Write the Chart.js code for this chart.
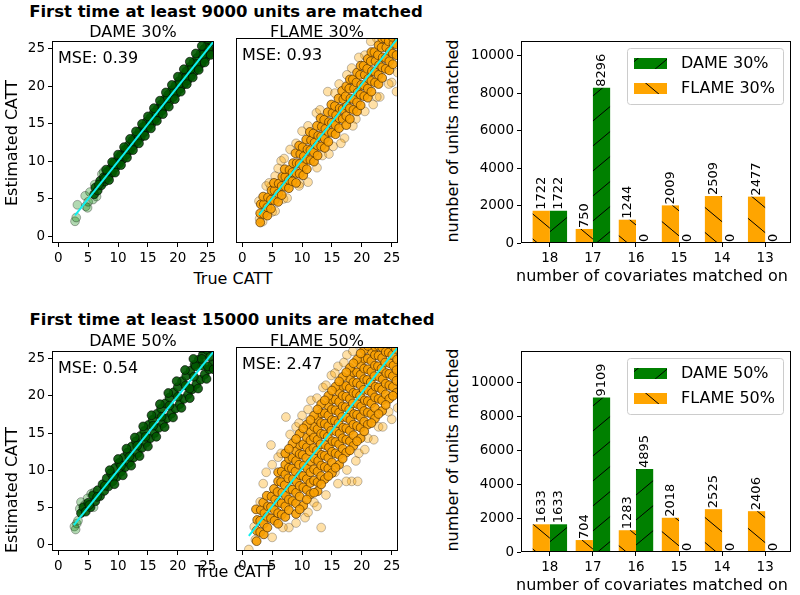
<!DOCTYPE html>
<html>
<head>
<meta charset="utf-8">
<script src="https://cdn.jsdelivr.net/npm/chart.js@4.4.1/dist/chart.umd.min.js"></script>
<style>
body { margin: 0; background: #fff; }
#fig { position: relative; width: 800px; height: 595px; overflow: hidden; font-family: "DejaVu Sans", sans-serif; color: #000; }
canvas { position: absolute; }
.t { position: absolute; transform: translate(-50%, -50%); white-space: nowrap; line-height: 1; font-size: 16px; }
.b { font-weight: bold; font-size: 16.5px; }
.v { transform: translate(-50%, -50%) rotate(-90deg); }
</style>
</head>
<body>
<div id="fig">
  <canvas id="dame30"></canvas>
  <canvas id="flame30"></canvas>
  <canvas id="bars30"></canvas>
  <canvas id="dame50"></canvas>
  <canvas id="flame50"></canvas>
  <canvas id="bars50"></canvas>

  <div class="t b" style="left:226px;top:12px">First time at least 9000 units are matched</div>
  <div class="t" style="left:133px;top:32px">DAME 30%</div>
  <div class="t" style="left:317px;top:32px">FLAME 30%</div>
  <div class="t v" style="left:12px;top:143px">Estimated CATT</div>
  <div class="t" style="left:233px;top:279px">True CATT</div>
  <div class="t v" style="left:453px;top:141px">number of units matched</div>
  <div class="t" style="left:652px;top:276px">number of covariates matched on</div>

  <div class="t b" style="left:232px;top:320px">First time at least 15000 units are matched</div>
  <div class="t" style="left:133px;top:341px">DAME 50%</div>
  <div class="t" style="left:317px;top:341px">FLAME 50%</div>
  <div class="t v" style="left:12px;top:490px">Estimated CATT</div>
  <div class="t" style="left:234px;top:572px">True CATT</div>
  <div class="t v" style="left:453px;top:450px">number of units matched</div>
  <div class="t" style="left:652px;top:585px">number of covariates matched on</div>
</div>
<script>
// bar panels
const covariates = [18, 17, 16, 15, 14, 13];
const flame30Units = [1722, 750, 1244, 2009, 2509, 2477];
const dame30Units = [1722, 8296, 0, 0, 0, 0];
const flame50Units = [1633, 704, 1283, 2018, 2525, 2406];
const dame50Units = [1633, 9109, 4895, 0, 0, 0];
const unitTicks = [0, 2000, 4000, 6000, 8000, 10000];

// scatter panels: [true CATT, estimated CATT]
const cattTicks = [0, 5, 10, 15, 20, 25];
const mseLabels = ['MSE: 0.39', 'MSE: 0.93', 'MSE: 0.54', 'MSE: 2.47'];

const dame30Core = [[6.0,5.6],[6.2,6.5],[6.6,6.1],[7.0,7.4],[7.2,6.8],[7.6,7.9],[7.8,7.3],[8.2,8.6],[8.4,7.9],[8.8,9.1],[9.0,8.5],[9.3,9.8],[9.6,9.2],[10.0,10.4],[10.2,9.7],[10.5,10.9],[10.8,10.3],[11.2,11.6],[11.4,10.9],[11.8,12.2],[12.0,11.5],[12.4,12.8],[12.6,12.1],[13.0,13.4],[13.2,12.7],[13.6,14.0],[13.8,13.2],[14.2,14.6],[14.4,13.9],[14.8,15.3],[15.0,14.5],[15.4,15.8],[15.6,15.0],[16.0,16.5],[16.2,15.6],[16.6,17.0],[16.8,16.2],[17.2,17.6],[17.4,16.8],[17.8,18.3],[18.0,17.4],[18.4,18.9],[18.6,18.0],[19.0,19.5],[19.2,18.6],[19.6,20.1],[19.8,19.1],[20.2,20.7],[20.4,19.7],[20.8,21.4],[21.0,20.3],[21.4,22.0],[21.6,20.8],[22.0,22.6],[22.2,21.4],[22.6,23.2],[22.8,22.0],[23.2,23.8],[23.4,22.5],[23.8,24.4],[24.0,23.1],[24.4,25.0],[24.6,23.7],[25.0,25.6],[25.2,24.3],[25.6,26.0],[25.8,24.9],
  [6.8,6.9],[7.8,7.7],[8.7,8.8],[9.7,9.6],[10.6,10.7],[11.6,11.5],[12.5,12.6],[13.5,13.4],[14.5,14.6],[15.5,15.4],[16.4,16.5],[17.4,17.3],[18.3,18.4],[19.3,19.2],[20.3,20.4],[21.2,21.1],[22.2,22.3],[23.1,23.0],[24.1,24.2],[25.1,25.0],
  [8.0,8.9],[9.0,9.9],[10.0,10.9],[11.0,11.9],[12.0,13.0],[13.0,14.0],[14.0,15.0],[15.0,16.0],[16.0,17.1],[17.0,18.1],[18.0,19.2],[19.0,20.2],[20.0,21.3],[21.0,22.3],[22.0,23.3],[23.0,24.4],[24.0,25.4],[25.0,26.3],
  [8.5,7.5],[9.5,8.5],[10.5,9.5],[11.5,10.5],[12.5,11.5],[13.5,12.4],[14.5,13.4],[15.5,14.4],[16.5,15.4],[17.5,16.3],[18.5,17.3],[19.5,18.3],[20.5,19.3],[21.5,20.3],[22.5,21.2],[23.5,22.2],[24.5,23.2],[25.5,24.2]];
const dame30Sparse = [[2.8,2.0],[3.0,2.5],[3.2,4.2],[4.5,5.4],[4.6,4.0],[4.9,3.8],[5.0,4.6],[5.3,5.9],[5.8,4.9],[6.1,6.9],[7.3,8.3],[7.6,8.6],[6.4,5.3],[25.9,24.3]];
const dame30Fit = [[2.8,2.8],[26.5,26.5]];

const flame30Core = [[3.0,1.8],[3.0,3.0],[3.1,4.2],[3.6,2.9],[3.6,4.2],[3.5,5.2],[4.2,2.7],[4.2,3.8],[4.3,5.1],[4.8,3.6],[4.8,4.8],[4.9,6.0],[5.4,4.7],[5.4,6.0],[5.3,7.0],
  [6.0,4.5],[6.0,5.6],[6.1,6.9],[6.6,5.4],[6.6,6.6],[6.7,7.8],[7.2,6.5],[7.2,7.8],[7.1,8.8],[7.8,6.3],[7.8,7.4],[7.9,8.7],[8.4,7.2],[8.4,8.4],[8.5,9.6],
  [9.0,7.0],[9.0,8.3],[9.1,9.6],[8.9,10.9],[9.6,8.2],[9.6,9.5],[9.7,10.8],[9.5,11.9],[10.2,8.0],[10.2,9.2],[10.3,10.5],[10.1,11.7],[10.8,8.8],[10.8,10.1],[10.9,11.4],[10.7,12.7],
  [11.4,10.0],[11.4,11.3],[11.5,12.6],[11.3,13.7],[12.0,9.8],[12.0,11.0],[12.1,12.3],[11.9,13.5],[12.6,10.6],[12.6,11.9],[12.7,13.2],[12.5,14.5],[13.2,11.8],[13.2,13.1],[13.3,14.4],[13.1,15.5],
  [13.8,11.6],[13.8,12.8],[13.9,14.1],[13.7,15.3],[14.4,12.4],[14.4,13.7],[14.5,15.0],[14.3,16.3],[15.0,13.6],[15.0,14.9],[15.1,16.2],[14.9,17.3],[15.6,13.4],[15.6,14.6],[15.7,15.9],[15.5,17.1],
  [16.2,14.2],[16.2,15.5],[16.3,16.8],[16.1,18.1],[16.8,15.4],[16.8,16.7],[16.9,18.0],[16.7,19.1],
  [17.4,14.6],[17.4,15.8],[17.5,17.1],[17.3,18.4],[17.4,19.7],[18.0,15.4],[18.0,16.8],[18.1,18.1],[17.9,19.4],[18.0,20.6],[18.6,16.6],[18.6,18.0],[18.7,19.4],[18.5,20.6],
  [19.2,16.4],[19.2,17.6],[19.3,18.9],[19.1,20.2],[19.2,21.5],[19.8,17.2],[19.8,18.6],[19.9,19.9],[19.7,21.2],[19.8,22.4],[20.4,18.4],[20.4,19.8],[20.5,21.2],[20.3,22.4],
  [21.0,18.2],[21.0,19.4],[21.1,20.7],[20.9,22.0],[21.0,23.3],[21.6,19.0],[21.6,20.4],[21.7,21.7],[21.5,23.0],[21.6,24.2],[22.2,20.2],[22.2,21.6],[22.3,23.0],[22.1,24.2],
  [22.8,20.0],[22.8,21.2],[22.9,22.5],[22.7,23.8],[22.8,25.1],[23.4,20.8],[23.4,22.2],[23.5,23.5],[23.3,24.8],[23.4,26.0],[24.0,22.0],[24.0,23.4],[24.1,24.8],[23.9,26.0],
  [24.6,21.8],[24.6,23.0],[24.7,24.3],[24.5,25.6],[25.2,22.6],[25.2,24.0],[25.3,25.3],[25.1,26.2],[25.8,23.8],[25.8,25.2],[25.9,26.3]];
const flame30Sparse = [[2.8,4.6],[3.4,1.9],[2.9,2.3],[4.8,6.5],[4.0,6.6],[6.5,9.9],[5.5,7.9],[11.0,7.1],[9.6,6.9],[12.4,16.2],[14.3,19.0],[17.1,12.9],[18.3,22.1],[21.9,17.3],[20.5,23.8],[23.0,18.3],[25.8,19.0],[26.0,21.5],[22.5,26.0],[24.0,26.0],[7.0,10.2],[8.0,11.4],[13.4,10.6],[15.2,11.8],[19.0,15.4],[16.2,20.0],[10.0,13.8],[6.9,4.9],[5.0,3.2],[25.0,20.2],
  [5.5,3.3],[7.5,5.0],[9.5,6.6],[12.5,9.0],[14.5,10.8],[16.5,12.2],[18.5,14.5],[20.5,16.4],[22.5,18.3],[24.5,20.0],[4.5,7.0],[6.0,8.9],[9.0,12.2],[11.0,14.5],[13.0,16.6],[15.5,18.8],[17.5,21.2],[19.5,23.5],[21.5,25.6]];
const flame30Fit = [[2.8,2.8],[26.5,26.5]];

const dame50Core = [[3.8,4.2],[4.2,5.0],[4.6,4.4],[5.0,5.6],[5.4,5.0],[5.8,6.6],[6.2,5.8],[6.6,7.3],[7.0,6.5],[7.4,8.1],[7.7,7.2],[8.1,8.9],[8.4,7.8],[8.8,9.6],[9.1,8.5],[9.5,10.3],[9.8,9.1],[10.2,11.0],[10.5,9.8],[10.9,11.7],[11.2,10.4],[11.6,12.4],[11.9,11.0],[12.3,13.2],[12.6,11.7],[13.0,13.9],[13.3,12.3],[13.7,14.6],[14.0,13.0],[14.4,15.3],[14.7,13.7],[15.1,16.1],[15.4,14.3],[15.8,16.8],[16.1,15.0],[16.5,17.6],[16.8,15.7],[17.2,18.3],[17.5,16.3],[17.9,19.0],[18.2,17.0],[18.6,19.8],[18.9,17.6],[19.3,20.5],[19.6,18.3],[20.0,21.2],[20.3,18.9],[20.7,22.0],[21.0,19.6],[21.4,22.7],[21.7,20.2],[22.1,23.4],[22.4,20.9],[22.8,24.2],[23.1,21.6],[23.5,24.9],[23.8,22.2],[24.2,25.6],[24.5,22.9],[24.9,26.2],[25.2,23.6],[25.6,26.4],[25.8,24.3],
  [5.2,5.3],[6.5,6.4],[7.8,7.9],[9.2,9.1],[10.5,10.6],[11.9,11.8],[13.2,13.3],[14.6,14.5],[15.9,16.0],[17.3,17.2],[18.6,18.7],[20.0,19.9],[21.3,21.4],[22.7,22.6],[24.0,24.1],[25.4,25.3],[22.0,21.0],[23.0,24.0],[24.0,25.0],[25.0,24.0],
  [8.6,10.0],[10.0,11.5],[11.4,12.9],[12.8,14.4],[14.2,15.9],[15.6,17.4],[17.0,18.9],[18.4,20.4],[19.8,22.0],[21.2,23.5],[22.6,25.0],[24.0,26.4],
  [9.4,8.1],[10.8,9.3],[12.2,10.6],[13.6,11.9],[15.0,13.2],[16.4,14.5],[17.8,15.8],[19.2,17.1],[20.6,18.4],[22.0,19.7],[23.4,21.0],[24.8,22.3],[26.0,23.6]];
const dame50Sparse = [[2.7,2.4],[2.9,2.0],[3.1,2.8],[3.3,3.2],[3.6,4.8],[3.8,5.7],[4.4,5.3],[5.5,6.8],[4.9,6.2],[6.0,7.0],[5.9,5.0]];
const dame50Fit = [[2.6,2.6],[26.5,26.5]];

const flame50Core = [[2.4,0.4],[2.4,1.8],[2.5,3.2],[2.3,4.6],[3.0,1.6],[3.0,3.1],[3.1,4.5],[3.6,1.3],[3.6,2.7],[3.7,4.1],[3.5,5.5],[4.2,2.2],[4.2,3.6],[4.3,5.0],[4.1,6.4],[4.8,3.4],[4.8,4.9],[4.9,6.3],[5.4,3.1],[5.4,4.5],[5.5,5.9],[5.3,7.3],
  [6.0,2.7],[6.0,4.1],[6.1,5.5],[5.9,6.9],[6.0,8.3],[6.0,9.5],[6.6,3.9],[6.6,5.4],[6.7,6.8],[6.5,8.2],[6.6,9.6],[7.2,3.6],[7.2,5.0],[7.3,6.4],[7.1,7.8],[7.2,9.2],[7.2,10.5],
  [7.8,4.5],[7.8,5.9],[7.9,7.3],[7.7,8.7],[7.8,10.1],[7.8,11.3],[8.4,5.7],[8.4,7.2],[8.5,8.6],[8.3,10.0],[8.4,11.4],[9.0,5.4],[9.0,6.8],[9.1,8.2],[8.9,9.6],[9.0,11.0],[9.0,12.3],
  [9.6,6.3],[9.6,7.7],[9.7,9.1],[9.5,10.5],[9.6,11.9],[9.6,13.1],[10.2,7.5],[10.2,9.0],[10.3,10.4],[10.1,11.8],[10.2,13.2],[10.8,7.2],[10.8,8.6],[10.9,10.0],[10.7,11.4],[10.8,12.8],[10.8,14.1],
  [11.4,8.1],[11.4,9.5],[11.5,10.9],[11.3,12.3],[11.4,13.7],[11.4,14.9],
  [12.0,8.4],[12.0,9.9],[12.1,11.3],[11.9,12.7],[12.0,14.1],[12.0,15.5],[12.6,8.2],[12.6,9.6],[12.7,11.0],[12.5,12.4],[12.6,13.8],[12.6,15.2],[12.6,16.5],
  [13.2,9.0],[13.2,10.4],[13.3,11.8],[13.1,13.2],[13.2,14.6],[13.2,16.0],[13.2,17.3],[13.8,10.2],[13.8,11.7],[13.9,13.1],[13.7,14.5],[13.8,15.9],[13.8,17.3],
  [14.4,10.0],[14.4,11.4],[14.5,12.8],[14.3,14.2],[14.4,15.6],[14.4,17.0],[14.4,18.3],[15.0,10.8],[15.0,12.2],[15.1,13.6],[14.9,15.0],[15.0,16.4],[15.0,17.8],[15.0,19.1],
  [15.6,12.0],[15.6,13.5],[15.7,14.9],[15.5,16.3],[15.6,17.7],[15.6,19.1],[16.2,11.8],[16.2,13.2],[16.3,14.6],[16.1,16.0],[16.2,17.4],[16.2,18.8],[16.2,20.1],
  [16.8,12.6],[16.8,14.0],[16.9,15.4],[16.7,16.8],[16.8,18.2],[16.8,19.6],[16.8,20.9],[17.4,13.8],[17.4,15.3],[17.5,16.7],[17.3,18.1],[17.4,19.5],[17.4,20.9],
  [18.0,13.6],[18.0,15.0],[18.1,16.4],[17.9,17.8],[18.0,19.2],[18.0,20.6],[18.0,21.9],[18.6,14.4],[18.6,15.8],[18.7,17.2],[18.5,18.6],[18.6,20.0],[18.6,21.4],[18.6,22.7],
  [19.2,15.6],[19.2,17.1],[19.3,18.5],[19.1,19.9],[19.2,21.3],[19.2,22.7],[19.8,15.4],[19.8,16.8],[19.9,18.2],[19.7,19.6],[19.8,21.0],[19.8,22.4],[19.8,23.7],
  [20.4,16.2],[20.4,17.6],[20.5,19.0],[20.3,20.4],[20.4,21.8],[20.4,23.2],[20.4,24.5],[21.0,17.4],[21.0,18.9],[21.1,20.3],[20.9,21.7],[21.0,23.1],[21.0,24.5],
  [21.6,17.2],[21.6,18.6],[21.7,20.0],[21.5,21.4],[21.6,22.8],[21.6,24.2],[21.6,25.5],[22.2,18.0],[22.2,19.4],[22.3,20.8],[22.1,22.2],[22.2,23.6],[22.2,25.0],[22.2,26.1],
  [22.8,19.2],[22.8,20.7],[22.9,22.1],[22.7,23.5],[22.8,24.9],[22.8,26.2],[23.4,19.0],[23.4,20.4],[23.5,21.8],[23.3,23.2],[23.4,24.6],[23.4,26.0],
  [24.0,19.8],[24.0,21.2],[24.1,22.6],[23.9,24.0],[24.0,25.4],[24.6,21.0],[24.6,22.5],[24.7,23.9],[24.5,25.3],[25.2,20.8],[25.2,22.2],[25.3,23.6],[25.1,25.0],[25.2,26.2],
  [25.8,21.6],[25.8,23.0],[25.9,24.4],[25.7,25.8],
  [7.2,12.0],[8.4,13.3],[9.6,14.6],[10.8,15.8],[12.0,17.0],[13.2,18.5],[14.4,19.6],[15.6,20.8],[16.8,22.1],[18.0,23.3],[19.2,24.4],[20.4,25.7],
  [7.8,12.6],[9.0,13.9],[10.2,15.3],[11.4,16.4],[12.6,17.8],[13.8,19.0],[15.0,20.3],[16.2,21.5],[17.4,22.7],[18.6,23.9],[19.8,25.2],[21.0,26.2],
  [9.0,4.0],[10.2,5.1],[11.4,6.6],[12.6,7.0],[13.8,8.6],[15.0,9.4],[16.2,10.5],[17.4,12.1],[18.6,13.0],[19.8,14.0],[21.0,15.8],[22.2,16.6],[23.4,17.6],[24.6,19.2],[25.8,20.0],
  [9.6,4.6],[10.8,5.9],[12.0,6.8],[13.2,7.9],[14.4,9.0],[15.6,10.1],[16.8,11.3],[18.0,12.4],[19.2,13.6],[20.4,14.9],[21.6,16.0],[22.8,17.2],[24.0,18.4],[25.2,19.6]];
const flame50Sparse = [[1.1,-0.7],[2.0,2.3],[2.2,0.6],[3.0,5.6],[4.8,13.1],[7.3,16.8],[11.5,19.0],[13.5,20.7],[14.9,22.3],[22.8,15.5],[18.3,8.3],[17.4,8.3],[19.3,8.3],[13.2,2.2],[7.8,2.2],[6.8,2.2],[25.3,20.1],[26.0,18.0],[26.0,22.5],[23.5,26.0],[20.0,26.0],[17.5,25.0],[3.5,8.0],[9.0,15.5],[10.5,3.5],[12.0,5.5],[15.5,9.5],[21.0,14.0],[24.5,17.5],[5.0,0.9],[16.0,23.5],[10.0,17.0],[6.0,11.5],[4.0,9.5],[19.5,12.0],[22.0,25.8],
  [5.0,10.5],[6.5,12.0],[8.0,14.5],[9.5,16.0],[11.0,17.8],[12.5,19.3],[14.0,21.0],[15.5,22.6],[17.0,24.0],[18.5,25.5],[9.0,2.8],[11.0,4.2],[12.5,5.0],[14.0,6.5],[16.0,8.0],[17.5,9.8],[19.0,11.0],[20.5,12.5],[22.0,13.8],[23.5,15.5],[25.0,16.5]];
const flame50Fit = [[1.1,1.1],[26.5,26.5]];

Chart.defaults.font.family = 'DejaVu Sans';
Chart.defaults.color = '#000';

const xy = pts => pts.map(p => ({ x: p[0], y: p[1] }));

function place(id, box) {
  const c = document.getElementById(id);
  c.width = box.r - box.l;
  c.height = box.b - box.t;
  c.style.left = box.l + 'px';
  c.style.top = box.t + 'px';
  return c;
}

function hatch(color, forward) {
  const c = document.createElement('canvas');
  c.width = 30; c.height = 25;
  const g = c.getContext('2d');
  g.fillStyle = color;
  g.fillRect(0, 0, 30, 25);
  g.strokeStyle = '#000';
  g.lineWidth = 1;
  g.beginPath();
  for (const dx of [-30, 0, 30]) {
    if (forward) { g.moveTo(dx, 25); g.lineTo(dx + 30, 0); }
    else { g.moveTo(dx, 0); g.lineTo(dx + 30, 25); }
  }
  g.stroke();
  return g.createPattern(c, 'repeat');
}

// box around the axes, like matplotlib's spines
const frame = {
  id: 'frame',
  afterDraw(chart) {
    const a = chart.chartArea, ctx = chart.ctx;
    ctx.save();
    ctx.strokeStyle = '#000';
    ctx.lineWidth = 1;
    ctx.strokeRect(Math.round(a.left) + 0.5, Math.round(a.top) + 0.5,
      Math.round(a.right - a.left) - 1, Math.round(a.bottom - a.top) - 1);
    ctx.restore();
  }
};

function cornerText(text) {
  return {
    id: 'cornerText',
    afterDatasetsDraw(chart) {
      const a = chart.chartArea, ctx = chart.ctx;
      ctx.save();
      ctx.font = '16px "DejaVu Sans"';
      ctx.fillStyle = '#000';
      ctx.textBaseline = 'alphabetic';
      ctx.fillText(text, a.left + 6, a.top + 22);
      ctx.restore();
    }
  };
}

const barValues = {
  id: 'barValues',
  afterDatasetsDraw(chart) {
    const ctx = chart.ctx;
    ctx.save();
    ctx.font = '13px "DejaVu Sans"';
    ctx.fillStyle = '#000';
    ctx.textAlign = 'left';
    ctx.textBaseline = 'middle';
    chart.data.datasets.forEach((ds, di) => {
      chart.getDatasetMeta(di).data.forEach((bar, i) => {
        ctx.save();
        ctx.translate(bar.x, bar.y);
        ctx.rotate(-Math.PI / 2);
        ctx.fillText(String(ds.data[i].y), 1, 0);
        ctx.restore();
      });
    });
    ctx.restore();
  }
};

function boxLegend(order) {
  return {
    id: 'boxLegend',
    afterDraw(chart) {
      const a = chart.chartArea, ctx = chart.ctx;
      const w = 156, h = 56, x = Math.round(a.right) - 8 - w, y = Math.round(a.top) + 7;
      ctx.save();
      ctx.beginPath();
      ctx.roundRect(x + 0.5, y + 0.5, w, h, 3);
      ctx.fillStyle = 'rgba(255,255,255,0.8)';
      ctx.fill();
      ctx.strokeStyle = '#cccccc';
      ctx.lineWidth = 1;
      ctx.stroke();
      ctx.font = '16px "DejaVu Sans"';
      ctx.textBaseline = 'middle';
      order.forEach((di, k) => {
        const ds = chart.data.datasets[di];
        const sy = y + 10 + k * 25;
        ctx.fillStyle = ds.backgroundColor;
        ctx.fillRect(x + 7, sy, 33, 11);
        ctx.fillStyle = '#000';
        ctx.fillText(ds.label, x + 54, sy + 6);
      });
      ctx.restore();
    }
  };
}

const tickFont = { size: 13.5 };
const tickGrid = { drawOnChartArea: false, drawTicks: true, tickLength: 4, color: '#000' };

function scatterPanel(id, box, area, core, sparse, fit, colors, mse, showY) {
  new Chart(place(id, box), {
    type: 'scatter',
    data: {
      datasets: [
        { type: 'line', data: xy(fit), borderColor: '#0ff0f0', borderWidth: 2, pointRadius: 0, fill: false },
        { data: xy(core), backgroundColor: colors.core, borderColor: colors.coreEdge, borderWidth: 1, pointRadius: 4.4 },
        { data: xy(sparse), backgroundColor: colors.pale, borderColor: colors.paleEdge, borderWidth: 1, pointRadius: 4.4 }
      ]
    },
    options: {
      responsive: false,
      animation: false,
      events: [],
      layout: { padding: { top: area.t - box.t, right: box.r - area.r, left: 0, bottom: 0 } },
      plugins: { legend: { display: false }, tooltip: { enabled: false } },
      scales: {
        x: {
          type: 'linear', min: -1.05, max: 26.05,
          afterBuildTicks: s => { s.ticks = cattTicks.map(v => ({ value: v })); },
          afterFit: s => { s.height = box.b - area.b; },
          border: { display: false },
          grid: tickGrid,
          ticks: { font: tickFont, color: '#000', padding: 3, autoSkip: false, maxRotation: 0 }
        },
        y: {
          type: 'linear', min: -0.9, max: 26.05,
          afterBuildTicks: s => { s.ticks = cattTicks.map(v => ({ value: v })); },
          afterFit: s => { s.width = area.l - box.l; },
          border: { display: false },
          grid: Object.assign({}, tickGrid, { display: showY }),
          ticks: { display: showY, font: tickFont, color: '#000', padding: 3, autoSkip: false }
        }
      }
    },
    plugins: [frame, cornerText(mse)]
  });
}

function barPanel(id, box, area, flame, dame, yMax, names) {
  new Chart(place(id, box), {
    type: 'bar',
    data: {
      datasets: [
        { label: names[1], data: flame.map((v, i) => ({ x: i, y: v })), backgroundColor: hatch('#ffa500', false), borderWidth: 0 },
        { label: names[0], data: dame.map((v, i) => ({ x: i, y: v })), backgroundColor: hatch('#008000', true), borderWidth: 0 }
      ]
    },
    options: {
      responsive: false,
      animation: false,
      events: [],
      datasets: { bar: { categoryPercentage: 0.8, barPercentage: 1 } },
      layout: { padding: { top: area.t - box.t, right: box.r - area.r, left: 0, bottom: 0 } },
      plugins: { legend: { display: false }, tooltip: { enabled: false } },
      scales: {
        x: {
          type: 'linear', min: -0.67, max: 5.6, offset: false,
          afterBuildTicks: s => { s.ticks = covariates.map((c, i) => ({ value: i })); },
          afterFit: s => { s.height = box.b - area.b; },
          border: { display: false },
          grid: Object.assign({}, tickGrid, { offset: false }),
          ticks: { font: tickFont, color: '#000', padding: 3, autoSkip: false, maxRotation: 0,
                   callback: v => covariates[v] }
        },
        y: {
          type: 'linear', min: 0, max: yMax,
          afterBuildTicks: s => { s.ticks = unitTicks.map(v => ({ value: v })); },
          afterFit: s => { s.width = area.l - box.l; },
          border: { display: false },
          grid: tickGrid,
          ticks: { font: tickFont, color: '#000', padding: 3, autoSkip: false, callback: v => String(v) }
        }
      }
    },
    plugins: [frame, barValues, boxLegend([1, 0])]
  });
}

const greenDots = { core: 'rgba(0,88,0,0.9)', coreEdge: 'rgba(0,0,0,0.6)', pale: 'rgba(0,128,0,0.3)', paleEdge: 'rgba(0,0,0,0.3)' };
const orangeDots = { core: 'rgba(250,160,0,0.9)', coreEdge: 'rgba(70,40,0,0.65)', pale: 'rgba(255,165,0,0.35)', paleEdge: 'rgba(0,0,0,0.25)' };

scatterPanel('dame30', { l: 20, t: 30, r: 222, b: 268 }, { l: 52, t: 38, r: 214, b: 243 },
  dame30Core, dame30Sparse, dame30Fit, greenDots, mseLabels[0], true);
scatterPanel('flame30', { l: 222, t: 30, r: 404, b: 268 }, { l: 236, t: 38, r: 398, b: 243 },
  flame30Core, flame30Sparse, flame30Fit, orangeDots, mseLabels[1], false);
scatterPanel('dame50', { l: 20, t: 340, r: 222, b: 575 }, { l: 52, t: 347, r: 214, b: 551 },
  dame50Core, dame50Sparse, dame50Fit, greenDots, mseLabels[2], true);
scatterPanel('flame50', { l: 222, t: 340, r: 404, b: 575 }, { l: 236, t: 347, r: 398, b: 551 },
  flame50Core, flame50Sparse, flame50Fit, orangeDots, mseLabels[3], false);

barPanel('bars30', { l: 462, t: 30, r: 800, b: 268 }, { l: 521, t: 38, r: 791, b: 243 },
  flame30Units, dame30Units, 10785, ['DAME 30%', 'FLAME 30%']);
barPanel('bars50', { l: 462, t: 340, r: 800, b: 578 }, { l: 521, t: 348, r: 791, b: 552 },
  flame50Units, dame50Units, 11842, ['DAME 50%', 'FLAME 50%']);
</script>
</body>
</html>
